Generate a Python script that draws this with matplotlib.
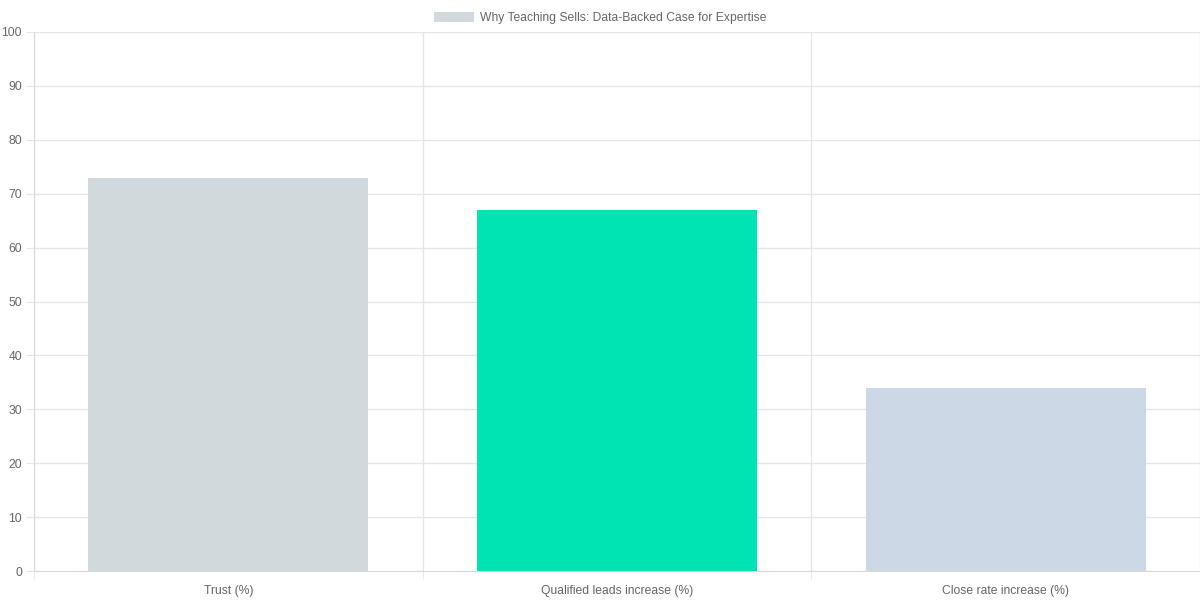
import matplotlib
matplotlib.use("Agg")
import matplotlib.pyplot as plt
from matplotlib.patches import Patch
from matplotlib.ticker import MultipleLocator, FixedLocator

plt.rcParams['font.family'] = ['Liberation Sans', 'DejaVu Sans']

categories = ['Trust (%)', 'Qualified leads increase (%)', 'Close rate increase (%)']
values = [73, 67, 34]
colors = ['#d1d9dc', '#00e3b2', '#ccd8e6']
title = 'Why Teaching Sells: Data-Backed Case for Expertise'

PX = 72 / 100  # points per pixel

fig = plt.figure(figsize=(12, 6), dpi=100)
ax = fig.add_axes([34 / 1200, 29 / 600, 1166 / 1200, 539 / 600])

x = range(len(categories))
ax.bar(x, values, width=0.72, color=colors, zorder=2)

ax.set_xlim(-0.5, len(categories) - 0.5)
ax.set_ylim(0, 100)
ax.yaxis.set_major_locator(MultipleLocator(10))
ax.set_xticks(list(x))
ax.set_xticklabels(categories)
ax.xaxis.set_minor_locator(FixedLocator([i + 0.5 for i in range(-1, len(categories))]))

grid_c = '#e6e6e6'
ax.tick_params(axis='x', which='major', length=0, pad=14 * PX, labelsize=8.7, labelcolor='#666666')
ax.tick_params(axis='x', which='minor', length=8 * PX, color=grid_c)
ax.tick_params(axis='y', length=8 * PX, color=grid_c, pad=4 * PX, labelsize=8.7, labelcolor='#666666')
ax.set_axisbelow(True)
ax.yaxis.grid(True, color=grid_c, linewidth=1)
ax.xaxis.grid(True, which='minor', color=grid_c, linewidth=1)
ax.xaxis.grid(False, which='major')

for side in ['top', 'right']:
    ax.spines[side].set_visible(False)
ax.spines['left'].set_color('#d9d9d9')
ax.spines['bottom'].set_color('#d9d9d9')

fig.legend(handles=[Patch(facecolor=colors[0], edgecolor='none', label=title)],
           loc='center', bbox_to_anchor=(0.5, 1 - 18 / 600), frameon=False,
           handlelength=3.3, handleheight=0.9, handletextpad=0.5,
           fontsize=8.7, labelcolor='#666666')

fig.savefig('out.png', dpi=100)
